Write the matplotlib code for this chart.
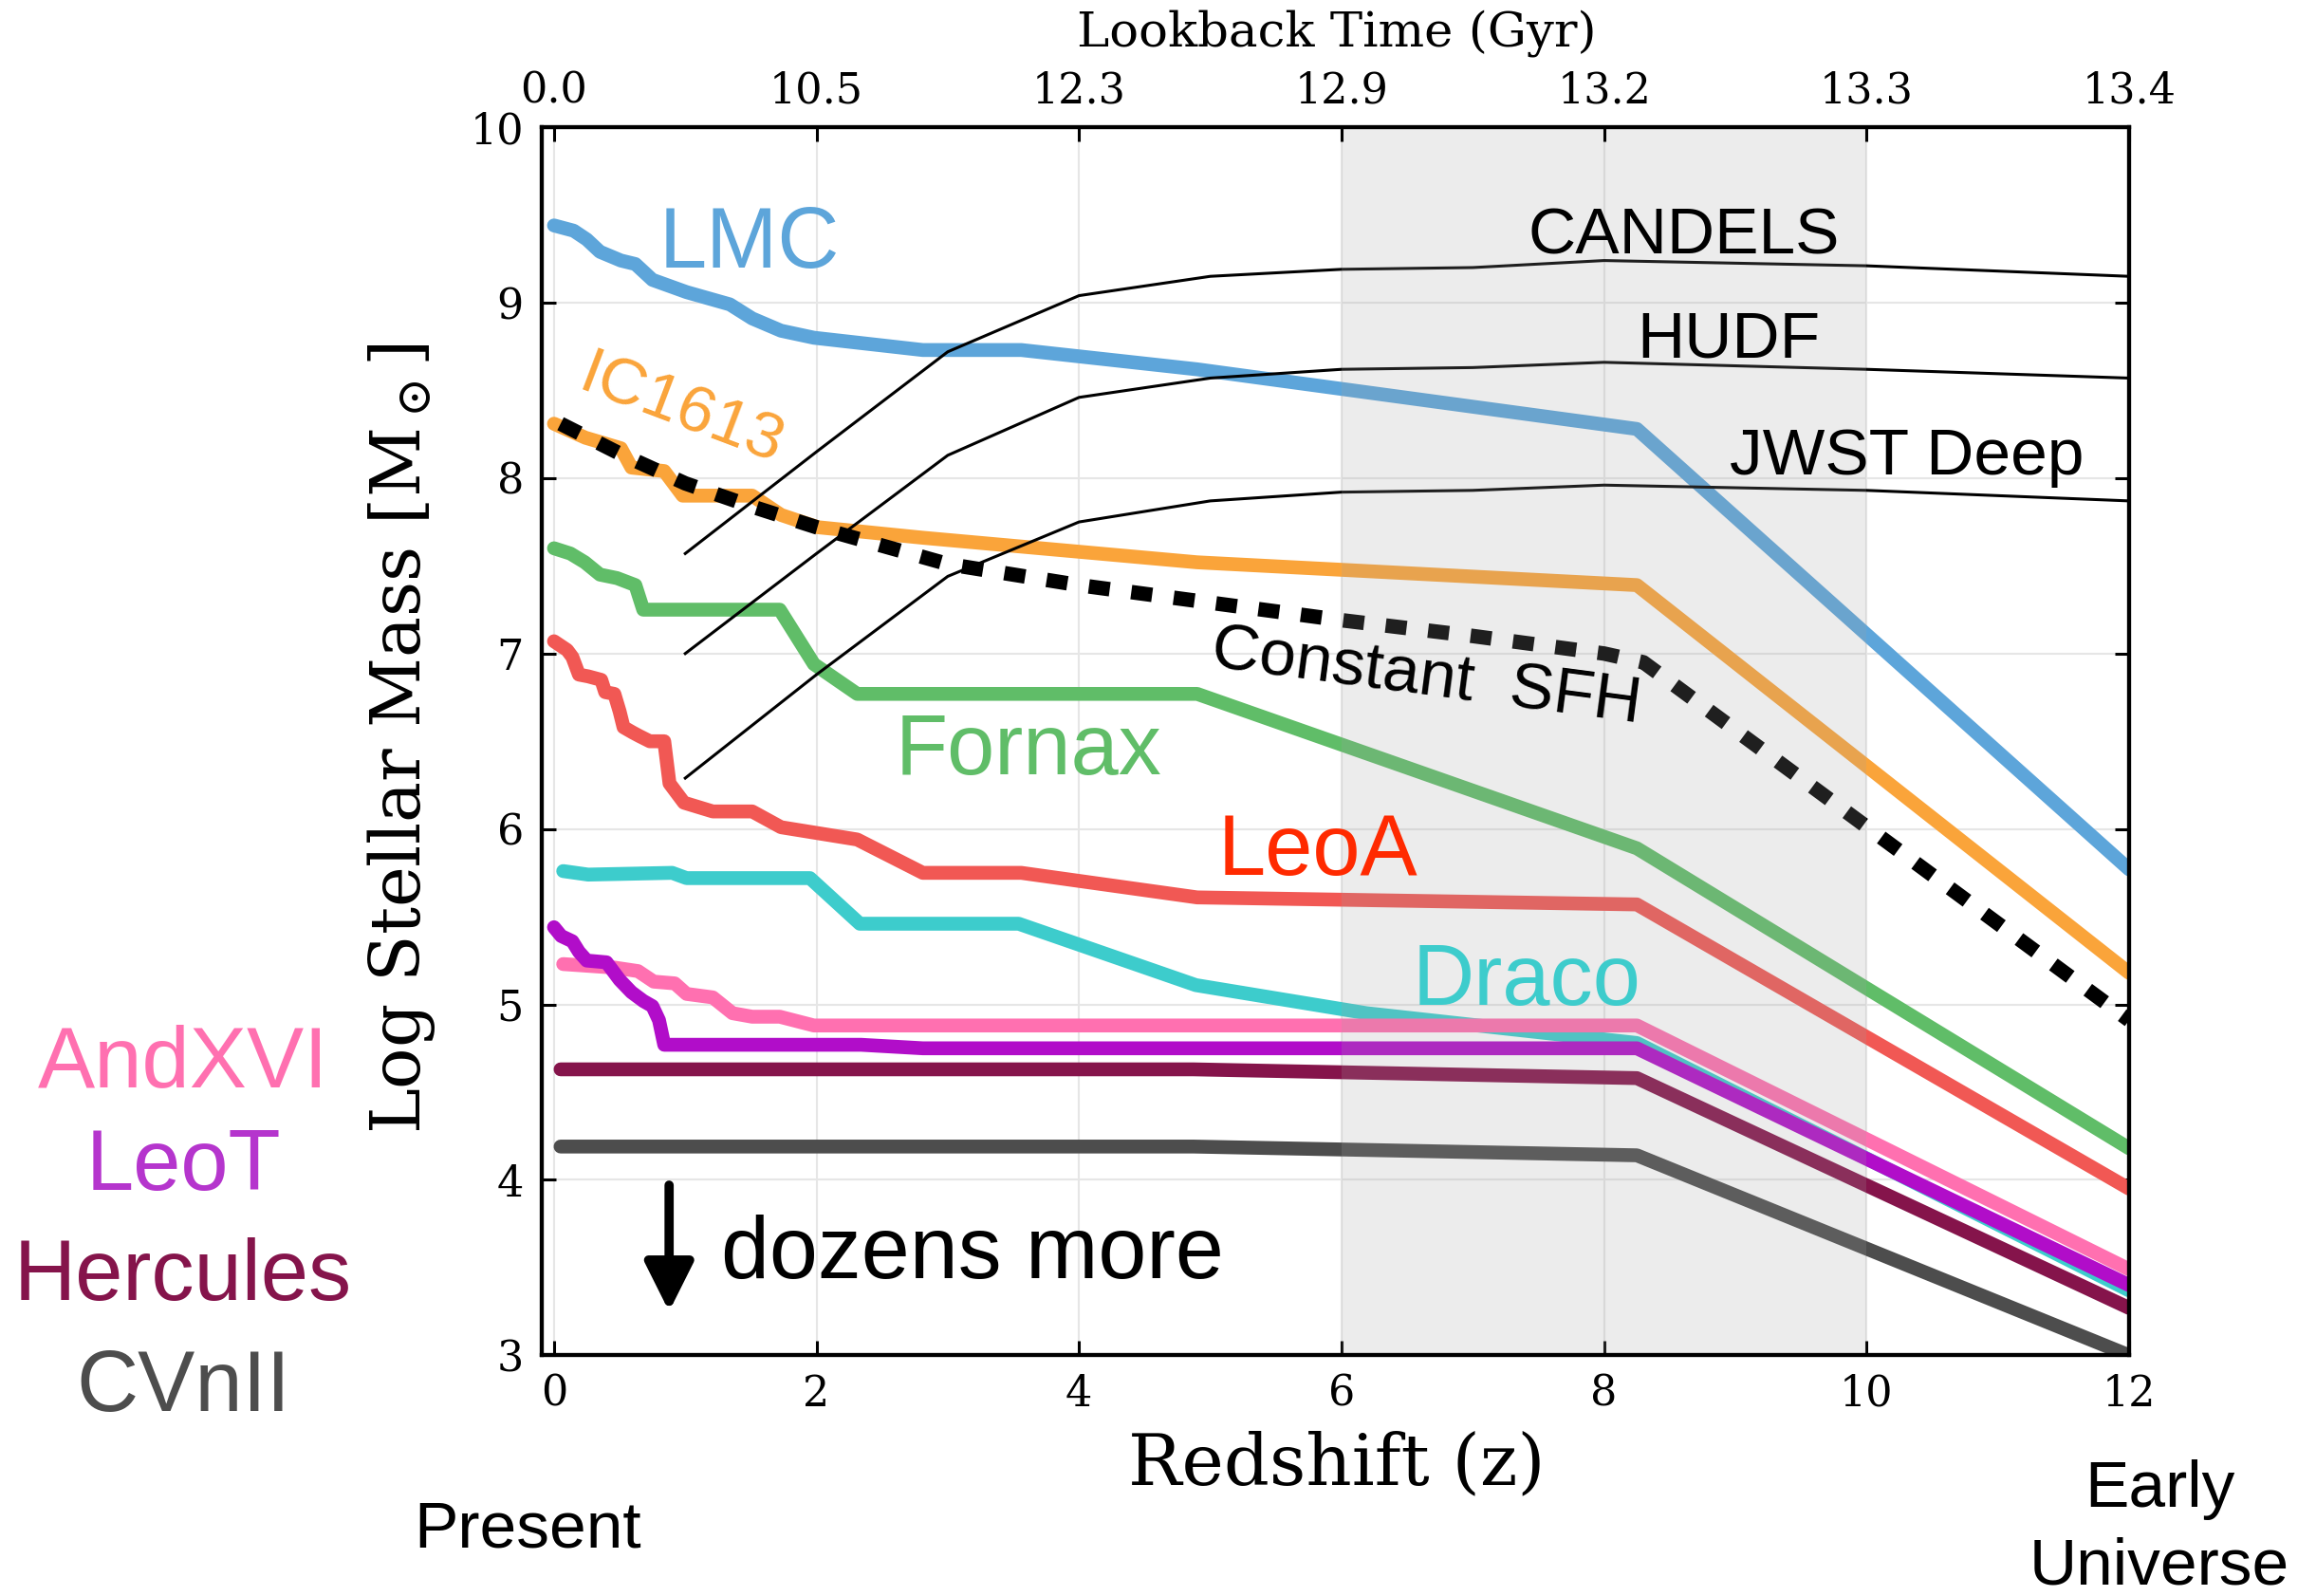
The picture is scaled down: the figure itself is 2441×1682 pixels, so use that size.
import matplotlib
matplotlib.use("Agg")
import matplotlib.pyplot as plt

plt.rcParams['font.family'] = ['DejaVu Serif']
plt.rcParams['mathtext.fontset'] = 'dejavuserif'
SANS = ['Liberation Sans', 'DejaVu Sans']

# --- data (redshift z, log stellar mass) ---
lmc_z = [0.0, 0.15, 0.25, 0.35, 0.51, 0.62, 0.75, 1.01, 1.34, 1.51, 1.73, 1.98, 2.81, 3.56, 4.9, 8.25, 12.0]
lmc_m = [9.44, 9.41, 9.36, 9.29, 9.24, 9.22, 9.13, 9.06, 8.99, 8.91, 8.84, 8.80, 8.73, 8.73, 8.62, 8.28, 5.77]

ic1613_z = [0.0, 0.24, 0.51, 0.59, 0.84, 0.98, 1.51, 1.73, 2.01, 2.81, 4.9, 8.25, 12.0]
ic1613_m = [8.31, 8.23, 8.17, 8.06, 8.04, 7.90, 7.90, 7.79, 7.72, 7.66, 7.52, 7.39, 5.18]

fornax_z = [0.0, 0.125, 0.235, 0.35, 0.48, 0.62, 0.68, 1.72, 1.98, 2.31, 4.9, 8.25, 12.0]
fornax_m = [7.60, 7.57, 7.52, 7.45, 7.43, 7.39, 7.25, 7.25, 6.94, 6.77, 6.77, 5.89, 4.18]

leoa_z = [0.0, 0.10, 0.14, 0.19, 0.26, 0.36, 0.39, 0.46, 0.50, 0.53, 0.60, 0.65, 0.73, 0.84,
          0.88, 0.99, 1.21, 1.51, 1.73, 2.31, 2.81, 3.56, 4.9, 8.25, 12.0]
leoa_m = [7.07, 7.02, 6.98, 6.88, 6.87, 6.85, 6.78, 6.77, 6.67, 6.58, 6.55, 6.53, 6.50, 6.50,
          6.26, 6.15, 6.10, 6.10, 6.01, 5.94, 5.75, 5.75, 5.61, 5.57, 3.95]

draco_z = [0.07, 0.26, 0.90, 1.01, 1.95, 2.33, 3.54, 4.89, 6.19, 8.25, 12.0]
draco_m = [5.76, 5.74, 5.75, 5.72, 5.72, 5.46, 5.46, 5.11, 4.95, 4.78, 3.37]

andxvi_z = [0.07, 0.46, 0.64, 0.76, 0.92, 1.01, 1.21, 1.36, 1.51, 1.72, 1.98, 8.25, 12.0]
andxvi_m = [5.23, 5.21, 5.19, 5.13, 5.12, 5.06, 5.04, 4.95, 4.93, 4.93, 4.88, 4.88, 3.49]

leot_z = [0.0, 0.055, 0.14, 0.19, 0.25, 0.40, 0.50, 0.59, 0.68, 0.75, 0.80, 0.84, 2.34, 2.81, 8.25, 12.0]
leot_m = [5.44, 5.39, 5.36, 5.30, 5.25, 5.24, 5.14, 5.07, 5.02, 4.99, 4.91, 4.77, 4.77, 4.75, 4.75, 3.40]

herc_z = [0.05, 4.87, 8.25, 12.0]
herc_m = [4.63, 4.63, 4.58, 3.27]

cvn_z = [0.05, 4.87, 8.25, 12.0]
cvn_m = [4.19, 4.19, 4.14, 3.00]

const_z = [0.05, 0.5, 1.0, 1.5, 2.0, 3.0, 4.0, 5.0, 6.0, 7.0, 8.0, 8.3, 12.0]
const_m = [8.31, 8.14, 7.97, 7.84, 7.72, 7.51, 7.39, 7.29, 7.19, 7.10, 7.00, 6.95, 4.91]

survey_z = [1, 2, 3, 4, 5, 6, 7, 8, 10, 12]
candels_m = [7.57, 8.15, 8.72, 9.04, 9.15, 9.19, 9.20, 9.24, 9.21, 9.15]
hudf_m = [7.00, 7.57, 8.13, 8.46, 8.57, 8.62, 8.63, 8.66, 8.62, 8.57]
jwst_m = [6.29, 6.88, 7.44, 7.75, 7.87, 7.92, 7.93, 7.96, 7.93, 7.87]

z_ticks = [0, 2, 4, 6, 8, 10, 12]
lookback_labels = ['0.0', '10.5', '12.3', '12.9', '13.2', '13.3', '13.4']

galaxies = [
    (lmc_z, lmc_m, '#5DA5DA'),
    (ic1613_z, ic1613_m, '#FAA43A'),
    (fornax_z, fornax_m, '#60BD68'),
    (leoa_z, leoa_m, '#F15854'),
    (draco_z, draco_m, '#3DCCCC'),
    (andxvi_z, andxvi_m, '#FF70B0'),
    (leot_z, leot_m, '#B10DC9'),
    (herc_z, herc_m, '#85144B'),
    (cvn_z, cvn_m, '#4D4D4D'),
]

fig = plt.figure(figsize=(24.41, 16.82), dpi=100)
ax = fig.add_axes([0.2341, 0.1508, 0.6852, 0.7695])

for zz, mm, col in galaxies:
    ax.plot(zz, mm, color=col, lw=10.5, solid_capstyle='round',
            solid_joinstyle='round', zorder=2)

ax.plot(const_z, const_m, color='k', lw=11, linestyle=(0, (1.45, 1.5)), zorder=2.1)

for mm in (candels_m, hudf_m, jwst_m):
    ax.plot(survey_z, mm, color='k', lw=2.2, zorder=2.2)

# grey band, drawn over the lines
ax.axvspan(6, 10, color='#a0a0a0', alpha=0.2, lw=0, zorder=2.5)

ax.set_xlim(-0.09, 12)
ax.set_ylim(3, 10)
ax.set_xticks(z_ticks)
ax.set_yticks(range(3, 11))
ax.set_axisbelow(True)
ax.grid(color='#e6e6e6', lw=1.5)
ax.tick_params(direction='in', length=10.5, width=2.2, labelsize=32,
               right=True, top=False)
ax.tick_params(axis='x', pad=14)
ax.tick_params(axis='y', pad=14)
for sp in ax.spines.values():
    sp.set_linewidth(3)

ax.set_xlabel('Redshift (z)', fontsize=54)
ax.xaxis.set_label_coords(0.5007, -0.061)
ax.set_ylabel(r'Log Stellar Mass [M$_\odot$]', fontsize=52)
ax.yaxis.set_label_coords(-0.066, 0.502)

ax2 = ax.twiny()
ax2.set_xlim(ax.get_xlim())
ax2.set_xticks(z_ticks)
ax2.set_xticklabels(lookback_labels)
ax2.tick_params(direction='in', length=10.5, width=2.2, labelsize=32, pad=12)
ax2.set_xlabel('Lookback Time (Gyr)', fontsize=37)
ax2.xaxis.set_label_coords(0.5007, 1.066)
for sp in ax2.spines.values():
    sp.set_linewidth(3)

# labels inside the axes
big = 65
small = 50
ax.text(1.485, 9.20, 'LMC', color='#5DA5DA', fontsize=big, family=SANS, ha='center', va='baseline', zorder=4)
ax.text(0.921, 8.291, 'IC1613', color='#FAA43A', fontsize=small, family=SANS, ha='center', va='baseline',
        rotation=-20.7, rotation_mode='anchor', zorder=4)
ax.text(3.613, 6.313, 'Fornax', color='#60BD68', fontsize=big, family=SANS, ha='center', va='baseline', zorder=4)
ax.text(5.82, 5.74, 'LeoA', color='#FF2A00', fontsize=big, family=SANS, ha='center', va='baseline', zorder=4)
ax.text(7.41, 5.0, 'Draco', color='#3DCCCC', fontsize=big, family=SANS, ha='center', va='baseline', zorder=4)
ax.text(8.61, 9.28, 'CANDELS', color='k', fontsize=small, family=SANS, ha='center', va='baseline', zorder=4)
ax.text(8.95, 8.69, 'HUDF', color='k', fontsize=small, family=SANS, ha='center', va='baseline', zorder=4)
ax.text(10.31, 8.02, 'JWST Deep', color='k', fontsize=small, family=SANS, ha='center', va='baseline', zorder=4)
ax.text(6.626, 6.763, 'Constant  SFH', color='k', fontsize=small, family=SANS, ha='center', va='baseline',
        rotation=-7.5, rotation_mode='anchor', zorder=4)
ax.text(3.186, 3.441, 'dozens more', color='k', fontsize=66, family=SANS, ha='center', va='baseline', zorder=4)
ax.annotate('', xy=(0.877, 3.25), xytext=(0.877, 3.97),
            arrowprops=dict(arrowstyle='-|>', color='k', lw=7, mutation_scale=78,
                            shrinkA=0, shrinkB=0), zorder=4)

# labels outside the axes
fig.text(0.0791, 0.3194, 'AndXVI', color='#FF70B0', fontsize=big, family=SANS, ha='center', va='baseline')
fig.text(0.0791, 0.2546, 'LeoT', color='#B535CD', fontsize=big, family=SANS, ha='center', va='baseline')
fig.text(0.0791, 0.1852, 'Hercules', color='#85144B', fontsize=big, family=SANS, ha='center', va='baseline')
fig.text(0.0791, 0.1157, 'CVnII', color='#4D4D4D', fontsize=big, family=SANS, ha='center', va='baseline')
fig.text(0.2277, 0.0306, 'Present', color='k', fontsize=small, family=SANS, ha='center', va='baseline')
fig.text(0.9324, 0.0556, 'Early', color='k', fontsize=small, family=SANS, ha='center', va='baseline')
fig.text(0.9324, 0.0074, 'Universe', color='k', fontsize=small, family=SANS, ha='center', va='baseline')

fig.savefig('out.png', dpi=100)
